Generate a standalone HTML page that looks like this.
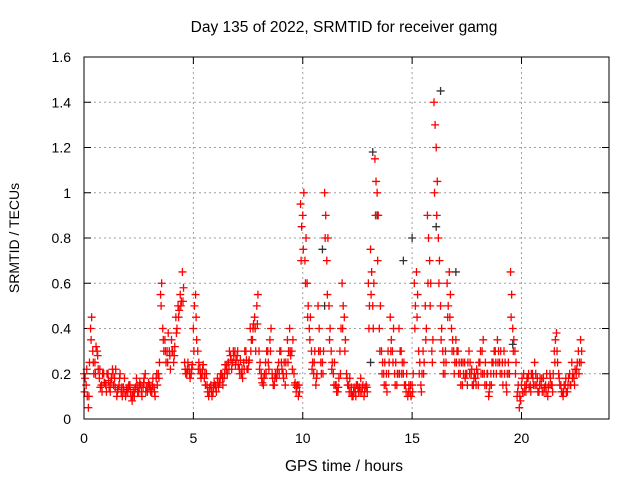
<!DOCTYPE html>
<html><head><meta charset="utf-8"><style>
body{margin:0;background:#fff;}
svg{display:block;font-family:"Liberation Sans",sans-serif;}
</style></head><body>
<svg id="c" width="640" height="480">
<text x="344" y="32" font-size="15.5" text-anchor="middle">Day 135 of 2022, SRMTID for receiver gamg</text>
<text x="344" y="471" font-size="15.5" text-anchor="middle">GPS time / hours</text>
<text transform="translate(19,238) rotate(-90)" font-size="14" text-anchor="middle">SRMTID / TECUs</text>
<g id="grid"></g><g id="ticks"></g><g id="marks"></g>
<rect x="84" y="57" width="525" height="362" fill="none" stroke="#000" stroke-width="1"/>
</svg>
<script>
const xTicks=[0,5,10,15,20];
const yTicks=[0,0.2,0.4,0.6,0.8,1,1.2,1.4,1.6];
const yTickLabels=["0","0.2","0.4","0.6","0.8","1","1.2","1.4","1.6"];
const startHour=0, stepHour=0.1;
const values=[0.2,0.15,0.05,0.4,0.3,0.25,0.3,0.18,0.15,0.2,
0.15,0.2,0.12,0.22,0.18,0.1,0.15,0.12,0.14,0.1,
0.12,0.15,0.08,0.1,0.18,0.12,0.15,0.14,0.2,0.12,
0.15,0.12,0.14,0.18,0.2,0.55,0.4,0.35,0.3,0.3,
0.35,0.25,0.45,0.5,0.55,0.65,0.25,0.2,0.22,0.2,
0.4,0.55,0.3,0.22,0.2,0.18,0.2,0.1,0.15,0.12,
0.15,0.18,0.16,0.2,0.18,0.22,0.25,0.28,0.25,0.3,
0.28,0.22,0.2,0.25,0.3,0.22,0.4,0.35,0.45,0.5,
0.3,0.2,0.15,0.25,0.3,0.35,0.2,0.15,0.18,0.25,
0.3,0.2,0.15,0.35,0.4,0.3,0.2,0.12,0.1,0.95,
0.9,0.7,0.6,0.4,0.3,0.2,0.15,0.5,0.3,0.25,
1.0,0.7,0.5,0.3,0.2,0.15,0.12,0.3,0.6,0.45,
0.2,0.15,0.12,0.1,0.12,0.15,0.14,0.12,0.1,0.15,
0.6,0.75,0.5,1.15,1.0,0.4,0.3,0.2,0.15,0.3,
0.45,0.3,0.2,0.15,0.4,0.3,0.2,0.15,0.1,0.12,
0.15,0.6,0.65,0.3,0.15,0.3,0.5,0.9,0.7,0.3,
1.4,1.2,0.8,0.5,0.3,0.2,0.6,0.65,0.4,0.3,
0.35,0.3,0.2,0.15,0.25,0.2,0.3,0.2,0.15,0.18,
0.2,0.25,0.3,0.2,0.15,0.1,0.2,0.25,0.3,0.35,
0.25,0.2,0.3,0.15,0.25,0.65,0.4,0.3,0.1,0.05,
0.15,0.2,0.12,0.18,0.15,0.2,0.25,0.15,0.12,0.15,
0.18,0.15,0.1,0.2,0.15,0.3,0.38,0.2,0.15,0.1,
0.15,0.12,0.2,0.25,0.18,0.2,0.3,0.35];
const startHour2=0.05;
const values2=[0.18,0.1,0.25,0.45,0.2,0.32,0.22,0.14,0.2,0.16,
0.2,0.14,0.18,0.15,0.22,0.13,0.2,0.1,0.18,0.13,
0.15,0.1,0.12,0.14,0.12,0.16,0.1,0.18,0.14,0.16,
0.12,0.18,0.1,0.15,0.25,0.6,0.3,0.25,0.38,0.22,
0.3,0.32,0.4,0.48,0.52,0.58,0.2,0.25,0.18,0.24,
0.5,0.35,0.25,0.18,0.24,0.15,0.12,0.14,0.1,0.16,
0.12,0.14,0.2,0.15,0.24,0.2,0.3,0.22,0.28,0.26,
0.24,0.26,0.18,0.3,0.22,0.26,0.35,0.42,0.3,0.55,
0.25,0.16,0.2,0.3,0.22,0.4,0.15,0.2,0.22,0.3,
0.22,0.25,0.2,0.3,0.28,0.35,0.16,0.15,0.12,0.85,
1.0,0.8,0.5,0.45,0.25,0.3,0.2,0.4,0.2,0.3,
0.9,0.8,0.4,0.25,0.25,0.12,0.18,0.4,0.5,0.35,
0.15,0.18,0.1,0.14,0.15,0.12,0.18,0.15,0.14,0.12,
0.5,0.65,0.6,1.05,0.9,0.5,0.25,0.25,0.12,0.25,
0.35,0.4,0.25,0.2,0.3,0.25,0.15,0.2,0.15,0.1,
0.2,0.5,0.55,0.25,0.2,0.25,0.4,0.8,0.6,0.35,
1.3,1.05,0.7,0.4,0.25,0.25,0.5,0.55,0.35,0.25,
0.3,0.25,0.25,0.2,0.2,0.25,0.25,0.15,0.2,0.22,
0.25,0.2,0.35,0.25,0.2,0.15,0.25,0.3,0.2,0.3,
0.3,0.15,0.25,0.2,0.2,0.55,0.35,0.25,0.15,0.08,
0.12,0.15,0.18,0.14,0.2,0.15,0.2,0.12,0.18,0.12,
0.14,0.2,0.15,0.15,0.2,0.35,0.25,0.15,0.12,0.15,
0.12,0.18,0.15,0.2,0.22,0.25,0.25,0.3];
const startHour3=0.025;
const values3=[0.12,0.22,0.1,0.35,0.25,0.2,0.28,0.22,0.12,0.16,
0.12,0.17,0.16,0.2,0.14,0.12,0.18,0.14,0.12,0.12,
0.14,0.12,0.1,0.13,0.15,0.14,0.12,0.16,0.12,0.14,
0.13,0.15,0.12,0.2,0.18,0.5,0.35,0.3,0.25,0.28,
0.3,0.28,0.38,0.45,0.5,0.52,0.22,0.22,0.2,0.22,
0.3,0.45,0.22,0.2,0.22,0.2,0.15,0.12,0.12,0.14,
0.14,0.16,0.18,0.18,0.2,0.24,0.22,0.26,0.3,0.24,
0.3,0.2,0.22,0.22,0.26,0.25,0.3,0.4,0.4,0.42,
0.22,0.18,0.18,0.2,0.25,0.3,0.18,0.18,0.2,0.2,
0.25,0.18,0.25,0.25,0.3,0.22,0.15,0.14,0.15,0.7,
0.75,0.6,0.45,0.35,0.22,0.25,0.18,0.3,0.25,0.2,
0.8,0.55,0.35,0.22,0.15,0.15,0.14,0.2,0.4,0.3,
0.18,0.12,0.14,0.12,0.1,0.14,0.12,0.14,0.12,0.14,
0.4,0.55,0.4,0.9,0.7,0.3,0.2,0.15,0.2,0.2,
0.3,0.25,0.15,0.2,0.2,0.2,0.25,0.12,0.12,0.15,
0.12,0.4,0.45,0.2,0.12,0.2,0.35,0.6,0.5,0.25,
1.0,0.9,0.6,0.35,0.2,0.3,0.45,0.45,0.3,0.2,
0.25,0.2,0.15,0.25,0.18,0.15,0.2,0.22,0.18,0.15,
0.15,0.3,0.2,0.15,0.2,0.12,0.15,0.2,0.25,0.25,
0.2,0.25,0.2,0.12,0.2,0.45,0.3,0.2,0.12,0.1,
0.18,0.12,0.15,0.2,0.12,0.18,0.15,0.18,0.15,0.18,
0.12,0.12,0.14,0.18,0.12,0.25,0.3,0.18,0.12,0.12,
0.18,0.15,0.15,0.18,0.15,0.22,0.2,0.25];
const blackTimes=[10.9,13.2,13.4,14.6,15.0,16.1,16.3,17.0,19.6,11.0,13.1];
const blackValues=[0.75,1.18,0.9,0.7,0.8,0.85,1.45,0.65,0.33,0.5,0.25];
const NS="http://www.w3.org/2000/svg";
const X=h=>84+h*(525/24), Y=v=>419-v*(362/1.6);
function mk(t,a,p){const e=document.createElementNS(NS,t);for(const k in a)e.setAttribute(k,a[k]);p.appendChild(e);return e;}
const g=document.getElementById('grid'),tk=document.getElementById('ticks'),m=document.getElementById('marks');
xTicks.forEach(t=>{
 const l=mk('line',{x1:X(t),x2:X(t),y1:57,y2:419,stroke:'#a0a0a0','stroke-dasharray':'2,3'},g);
 
 mk('line',{x1:X(t),x2:X(t),y1:419,y2:412,stroke:'#000'},tk);mk('line',{x1:X(t),x2:X(t),y1:57,y2:64,stroke:'#000'},tk);
 const s=mk('text',{x:X(t),y:443,'font-size':14,'text-anchor':'middle'},tk);s.textContent=t;
 
});
yTicks.forEach((v,i)=>{
 const l=mk('line',{x1:84,x2:609,y1:Y(v),y2:Y(v),stroke:'#a0a0a0','stroke-dasharray':'2,3'},g);
 
 mk('line',{x1:84,x2:91,y1:Y(v),y2:Y(v),stroke:'#000'},tk);mk('line',{x1:609,x2:602,y1:Y(v),y2:Y(v),stroke:'#000'},tk);
 const s=mk('text',{x:71,y:Y(v)+5,'font-size':14,'text-anchor':'end'},tk);s.textContent=yTickLabels[i];
 
});
function plus(x,y,c){
 return mk('path',{d:`M${x-4},${y}h8M${x},${y-4}v8`,stroke:c,'stroke-width':1.3,fill:'none'},m);
}
blackTimes.forEach((t,i)=>{const p=plus(X(t),Y(blackValues[i]),'#333');
 });
[[values,startHour],[values2,startHour2],[values3,startHour3]].forEach(([arr,st])=>{
 arr.forEach((v,i)=>{const p=plus(X(st+i*stepHour),Y(v),'#ff0000');
  });
});
</script>
</body></html>
